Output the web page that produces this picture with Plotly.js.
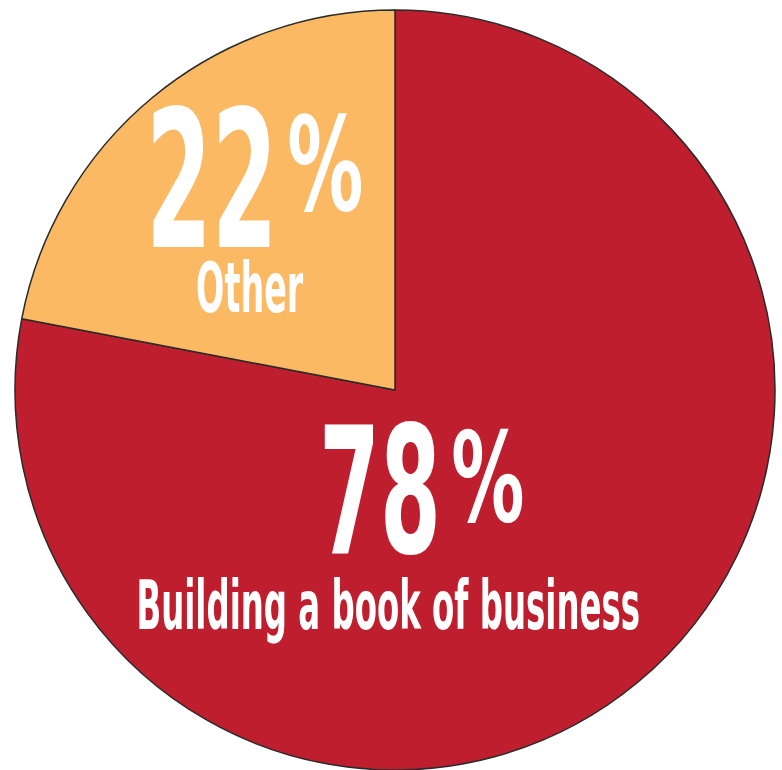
<!DOCTYPE html>
<html>
<head>
<meta charset="utf-8">
<script src="https://cdn.plot.ly/plotly-3.0.1.min.js"></script>
<style>
  html, body { margin: 0; padding: 0; background: #ffffff; }
  #chart { width: 782px; height: 770px; }
  .annotation-text {
    transform-box: fill-box;
    transform-origin: center;
    transform: scaleX(0.55);
  }
  .annotation[data-index="1"] .annotation-text,
  .annotation[data-index="4"] .annotation-text {
    transform: scaleX(0.65);
  }
  .annotation[data-index="2"] .annotation-text,
  .annotation[data-index="5"] .annotation-text {
    transform: scaleX(0.53);
  }
</style>
</head>
<body>
<div id="chart"></div>
<script>
// ---- data ----
const labels = ['Building a book of business', 'Other'];
const values = [78, 22];
const colors = ['#BE1E2D', '#FBB964'];

// ---- layout helpers (pixel -> paper) ----
const W = 782, H = 770;
const px = x => x / W;
const py = y => 1 - y / H;
const FONT = '"Liberation Sans Narrow", "DejaVu Sans Condensed", "Liberation Sans", sans-serif';

// label placement per slice: [center x, center y, font size] in pixels
const place = [
  { num: [380, 491, 177], pct: [488, 478, 125], lab: [388, 605, 68] },
  { num: [212, 181, 191], pct: [325, 165, 130], lab: [249, 288, 70] }
];

const annotations = [];
values.forEach((v, i) => {
  const p = place[i];
  const mk = (txt, spec) => ({
    text: txt, x: px(spec[0]), y: py(spec[1]), xref: 'paper', yref: 'paper',
    xanchor: 'center', yanchor: 'middle', showarrow: false,
    font: { family: FONT, size: spec[2], color: '#ffffff', weight: 'bold' }
  });
  annotations.push(mk(String(v), p.num));
  annotations.push(mk('%', p.pct));
  annotations.push(mk(labels[i], p.lab));
});

const trace = {
  type: 'pie',
  labels: labels,
  values: values,
  sort: false,
  direction: 'clockwise',
  rotation: 0,
  marker: { colors: colors, line: { color: '#2a2a2a', width: 1.5 } },
  textinfo: 'none',
  hoverinfo: 'none',
  showlegend: false,
  domain: { x: [px(14), px(776)], y: [0, py(10)] }
};

const layout = {
  width: W, height: H,
  margin: { l: 0, r: 0, t: 0, b: 0 },
  paper_bgcolor: '#ffffff',
  showlegend: false,
  annotations: annotations
};

Plotly.newPlot('chart', [trace], layout, { displayModeBar: false, staticPlot: true });
</script>
</body>
</html>
